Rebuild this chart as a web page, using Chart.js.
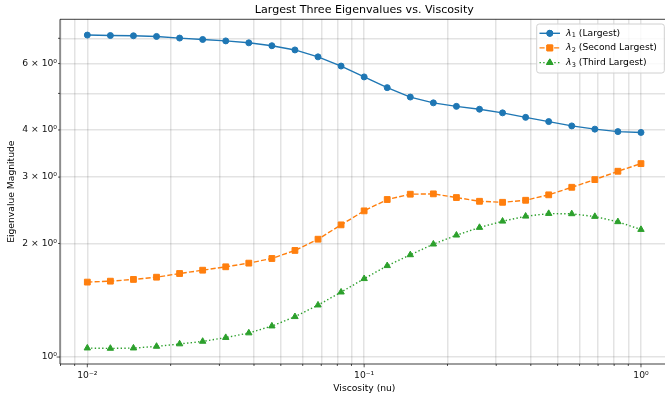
<!DOCTYPE html>
<html><head><meta charset="utf-8">
<script src="https://cdn.jsdelivr.net/npm/chart.js@4.4.0/dist/chart.umd.min.js"></script>
<style>html,body{margin:0;padding:0;background:#fff;overflow:hidden}#wrap{width:665px;height:396px;position:relative}</style>
</head><body><div id="wrap"><canvas id="c" width="665" height="396"></canvas></div>
<script>
const viscosity = [0.01, 0.012115, 0.014678, 0.017783, 0.021544, 0.026102, 0.031623, 0.038312, 0.046416, 0.056234, 0.068129, 0.082540,
  0.1, 0.12115, 0.14678, 0.17783, 0.21544, 0.26102, 0.31623, 0.38312, 0.46416, 0.56234, 0.68129, 0.82540, 1.0];
const lambda1 = [7.14, 7.12, 7.11, 7.08, 7.01, 6.95, 6.89, 6.81, 6.69, 6.52, 6.25, 5.91, 5.53, 5.18, 4.89, 4.72, 4.62, 4.54, 4.44, 4.32, 4.21, 4.10, 4.02, 3.96, 3.94];
const lambda2 = [1.58, 1.589, 1.606, 1.628, 1.665, 1.699, 1.735, 1.774, 1.825, 1.917, 2.053, 2.241, 2.441, 2.616, 2.702, 2.708, 2.648, 2.588, 2.572, 2.604, 2.692, 2.819, 2.954, 3.109, 3.257];
const lambda3 = [1.056, 1.054, 1.056, 1.067, 1.083, 1.100, 1.126, 1.158, 1.208, 1.279, 1.373, 1.486, 1.613, 1.746, 1.866, 1.992, 2.104, 2.205, 2.291, 2.362, 2.401, 2.397, 2.358, 2.283, 2.178];

const seriesLabels = ['(Largest)', '(Second Largest)', '(Third Largest)'];
const seriesSubscripts = ['1', '2', '3'];

const xTickValues = [0.008, 0.009, 0.01, 0.02, 0.03, 0.04, 0.05, 0.06, 0.07, 0.08, 0.09, 0.1, 0.2, 0.3, 0.4, 0.5, 0.6, 0.7, 0.8, 0.9, 1];
const xMajorTicks = [0.01, 0.1, 1];
const xTickLabels = ['10⁻²', '10⁻¹', '10⁰'];
const yTickValues = [1, 2, 3, 4, 5, 6, 7];
const yLabeledTicks = [1, 2, 3, 4, 6];
const yTickLabels = ['10⁰', '2 × 10⁰', '3 × 10⁰', '4 × 10⁰', '6 × 10⁰'];

const X_MIN = Math.pow(10, -2.0987), X_MAX = Math.pow(10, 0.0868);
const Y_MIN = Math.pow(10, -0.0185), Y_MAX = Math.pow(10, 0.8955);

const FONT = 'DejaVu Sans';
const GRID = 'rgba(0,0,0,0.11)';
const C1 = '#1f77b4', C2 = '#ff7f0e', C3 = '#2ca02c';

function near(a, b) { return Math.abs(a - b) / b < 1e-6; }
function labelFor(vals, labels, v) {
  for (let i = 0; i < vals.length; i++) if (near(v, vals[i])) return labels[i];
  return '';
}
function noPad(s) { s.paddingLeft = 0; s.paddingRight = 0; s.paddingTop = 0; s.paddingBottom = 0; }

const styles = [
  {color: C1, dash: [], point: 'circle', r: 3.0},
  {color: C2, dash: [5.1, 2.2], point: 'rect', r: 4.1},
  {color: C3, dash: [1.4, 2.3], point: 'triangle', r: 3.7}
];

const decor = {
  id: 'decor',
  afterDraw(chart) {
    const ctx = chart.ctx, a = chart.chartArea;
    const xs = chart.scales.x, ys = chart.scales.y;
    ctx.save();
    // frame
    ctx.strokeStyle = 'rgba(0,0,0,0.85)';
    ctx.lineWidth = 0.9;
    ctx.beginPath();
    ctx.moveTo(a.right + 1, a.top); ctx.lineTo(a.left, a.top); ctx.lineTo(a.left, a.bottom); ctx.lineTo(a.right + 1, a.bottom);
    ctx.stroke();
    // tick marks
    ctx.lineWidth = 0.8;
    ctx.beginPath();
    xTickValues.forEach(v => {
      const px = xs.getPixelForValue(v);
      const len = xMajorTicks.some(m => near(v, m)) ? 3.3 : 2;
      ctx.moveTo(px, a.bottom); ctx.lineTo(px, a.bottom + len);
    });
    yTickValues.forEach(v => {
      const py = ys.getPixelForValue(v);
      const len = near(v, 1) ? 3.3 : 2;
      ctx.moveTo(a.left, py); ctx.lineTo(a.left - len, py);
    });
    ctx.stroke();
    // title
    ctx.fillStyle = '#000';
    ctx.textAlign = 'center'; ctx.textBaseline = 'middle';
    ctx.font = '11.1px ' + FONT;
    ctx.fillText('Largest Three Eigenvalues vs. Viscosity', (a.left + 668.7) / 2, 10.5);
    // axis labels
    ctx.font = '9.2px ' + FONT;
    ctx.fillText('Viscosity (nu)', (a.left + 668.7) / 2, 388.5);
    ctx.save();
    ctx.translate(11.8, (a.top + a.bottom) / 2);
    ctx.rotate(-Math.PI / 2);
    ctx.fillText('Eigenvalue Magnitude', 0, 0);
    ctx.restore();
    // legend
    const bx = 536.7, by = 24, bw = 127.6, bh = 49;
    ctx.beginPath();
    if (ctx.roundRect) ctx.roundRect(bx, by, bw, bh, 2.5); else ctx.rect(bx, by, bw, bh);
    ctx.fillStyle = 'rgba(255,255,255,0.8)';
    ctx.fill();
    ctx.strokeStyle = '#d0d0d0';
    ctx.lineWidth = 1;
    ctx.stroke();
    const rows = [33.3, 47.9, 62.6];
    rows.forEach((ry, i) => {
      const st = styles[i];
      ctx.save();
      ctx.strokeStyle = st.color; ctx.lineWidth = 1.4;
      ctx.setLineDash(st.dash);
      ctx.beginPath(); ctx.moveTo(539.5, ry); ctx.lineTo(560, ry); ctx.stroke();
      ctx.setLineDash([]);
      ctx.fillStyle = st.color; ctx.lineWidth = 1;
      Chart.helpers.drawPoint(ctx, {pointStyle: st.point, radius: st.r, rotation: 0, borderWidth: 1}, 549.8, ry);
      ctx.fill(); ctx.stroke();
      ctx.restore();
      ctx.fillStyle = '#000';
      ctx.textAlign = 'left'; ctx.textBaseline = 'middle';
      let tx = 566;
      ctx.font = 'italic 9.2px ' + FONT;
      ctx.fillText('λ', tx, ry);
      tx += ctx.measureText('λ').width + 0.3;
      ctx.font = '6.5px ' + FONT;
      ctx.fillText(seriesSubscripts[i], tx, ry + 2.4);
      tx += ctx.measureText(seriesSubscripts[i]).width;
      ctx.font = '9.2px ' + FONT;
      ctx.fillText(' ' + seriesLabels[i], tx, ry);
    });
    ctx.restore();
  }
};

function ds(vals, i) {
  const st = styles[i];
  return {
    data: viscosity.map((x, k) => ({x: x, y: vals[k]})),
    borderColor: st.color, backgroundColor: st.color,
    borderWidth: 1.4, borderDash: st.dash,
    pointStyle: st.point, pointRadius: st.r, pointBorderWidth: 1,
    pointBorderColor: st.color, pointBackgroundColor: st.color,
    tension: 0, fill: false, order: i
  };
}

new Chart(document.getElementById('c'), {
  type: 'line',
  data: {datasets: [ds(lambda1, 0), ds(lambda2, 1), ds(lambda3, 2)]},
  options: {
    responsive: false, animation: false, devicePixelRatio: 1,
    layout: {autoPadding: false, padding: {top: 19.3, right: 0, left: 0, bottom: 0}},
    plugins: {legend: {display: false}, title: {display: false}, tooltip: {enabled: false}},
    scales: {
      x: {
        type: 'logarithmic', min: X_MIN, max: X_MAX,
        afterBuildTicks: s => { s.ticks = xTickValues.map(v => ({value: v})); },
        afterFit: s => { s.height = 32; noPad(s); },
        grid: {color: GRID, lineWidth: 1.5, drawTicks: false},
        border: {display: false},
        ticks: {autoSkip: false, maxRotation: 0, minRotation: 0, padding: 6, color: '#111',
          font: {family: FONT, size: 9.2},
          callback: v => labelFor(xMajorTicks, xTickLabels, v)}
      },
      y: {
        type: 'logarithmic', min: Y_MIN, max: Y_MAX,
        afterBuildTicks: s => { s.ticks = yTickValues.map(v => ({value: v})); },
        afterFit: s => { s.width = 60; noPad(s); },
        grid: {color: GRID, lineWidth: 1.5, drawTicks: false},
        border: {display: false},
        ticks: {autoSkip: false, padding: 3, color: '#111',
          font: {family: FONT, size: 9.2},
          callback: v => labelFor(yLabeledTicks, yTickLabels, v)}
      }
    }
  },
  plugins: [decor]
});
</script></body></html>
